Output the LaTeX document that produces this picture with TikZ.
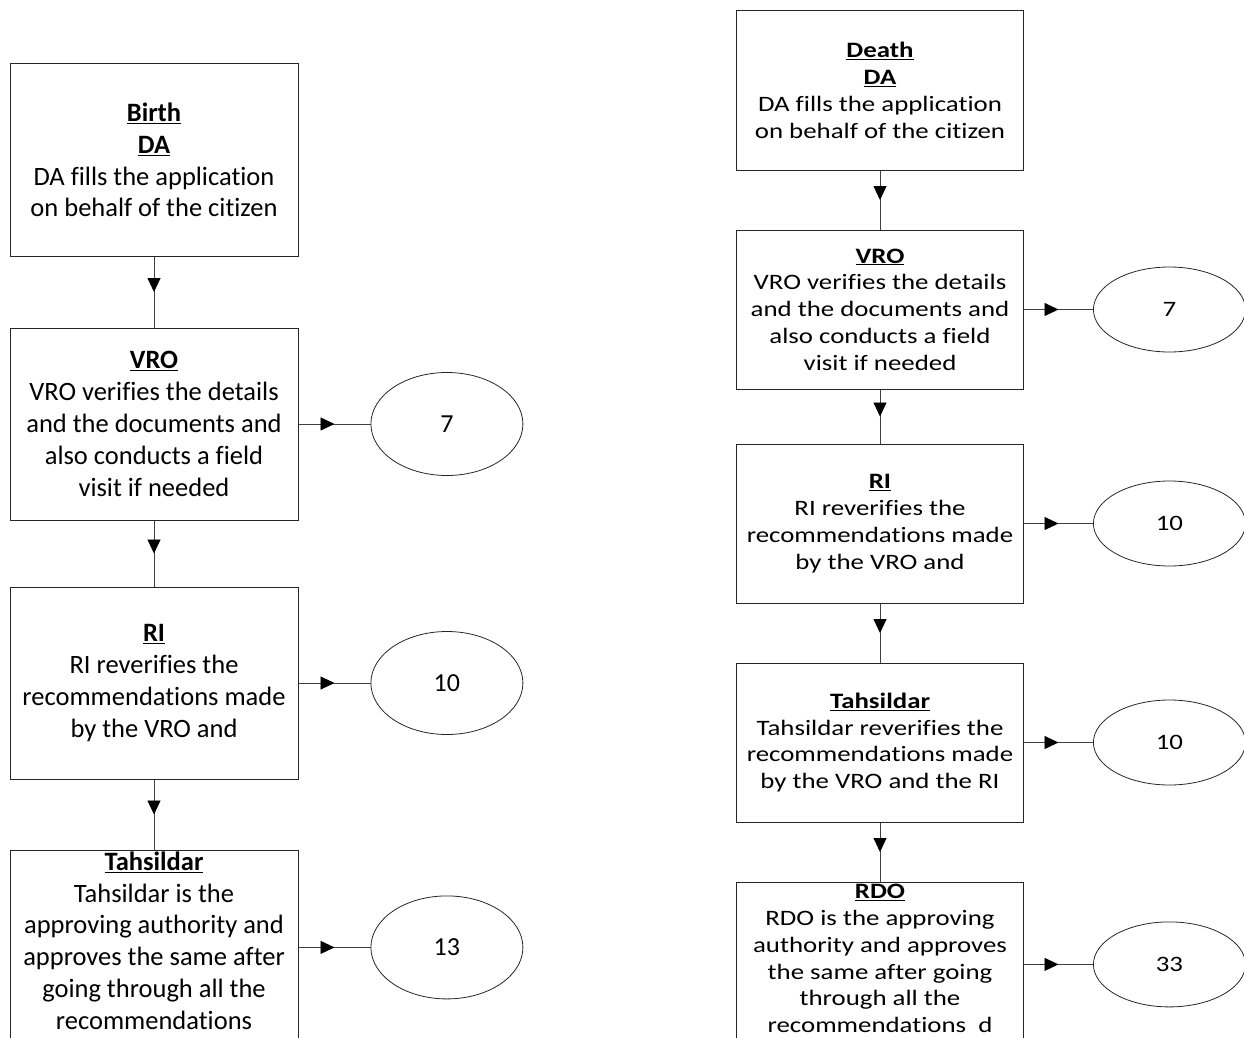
\documentclass[tikz,border=0pt]{standalone}
\usepackage{fontspec}
\setmainfont[Ligatures=NoCommon]{Carlito}
\newfontfamily\widefont[Ligatures=NoCommon, FakeStretch=1.22]{Carlito}
\usetikzlibrary{shapes.geometric,positioning,arrows.meta,decorations.markings}

\tikzset{
  stage/.style={draw=black!85, line width=1pt, rectangle, align=center,
    minimum width=288pt, minimum height=192pt, inner sep=2pt,
    font=\fontsize{26.5}{31.8}\selectfont},
  rstage/.style={stage, minimum width=287pt, minimum height=159pt,
    font=\widefont\fontsize{22}{26.8}\selectfont},
  days/.style={draw=black!85, line width=0.8pt, ellipse, inner sep=0pt,
    minimum width=152pt, minimum height=103pt,
    font=\fontsize{26}{31.7}\selectfont},
  rdays/.style={days, minimum height=85pt, font=\widefont\fontsize{22}{27}\selectfont},
  flow/.style={draw=black!75, line width=0.9pt,
    decoration={markings, mark=at position 0.5 with {\arrow[black]{Triangle[length=14pt,width=13pt]}}},
    postaction={decorate}},
}
\newcommand{\head}[1]{\underline{\textbf{#1}}}
% text lifted a little inside the last boxes
\newcommand{\lifted}[1]{\raisebox{4pt}[\height][\depth]{\begin{tabular}{@{}c@{}}#1\end{tabular}}}

\begin{document}
\begin{tikzpicture}[x=1pt, y=-1pt, node distance=70pt]
    \useasboundingbox (0,0) rectangle (1244,1038);

    % birth
    \node [stage] (bda) at (154,160) {\head{Birth}\\ \head{DA}\\ DA fills the application\\ on behalf of the citizen};
    \node [stage, below=71pt of bda] (bvro) {\head{VRO}\\ VRO verifies the details\\ and the documents and\\ also conducts a field\\ visit if needed};
    \node [stage, below=66pt of bvro] (bri) {\head{RI}\\ RI reverifies the\\ recommendations made\\ by the VRO and};
    \node [stage, below=70pt of bri] (btah) {\lifted{\head{Tahsildar}\\ Tahsildar is the\\ approving authority and\\ approves the same after\\ going through all the\\ recommendations}};

    \node [days, right=72pt of bvro] (bvro-d) {7};
    \node [days, right=72pt of bri] (bri-d) {10};
    \node [days, right=72pt of btah] (btah-d) {13};

    \draw [flow] (bda) -- (bvro);
    \draw [flow] (bvro) -- (bri);
    \draw [flow] (bri) -- (btah);
    \draw [flow] (bvro) -- (bvro-d);
    \draw [flow] (bri) -- (bri-d);
    \draw [flow] (btah) -- (btah-d);

    % death
    \node [rstage] (dda) at (880,90.5) {\head{Death}\\ \head{DA}\\ DA fills the application\\ on behalf of the citizen};
    \node [rstage, below=59pt of dda] (dvro) {\head{VRO}\\ VRO verifies the details\\ and the documents and\\ also conducts a field\\ visit if needed};
    \node [rstage, below=54pt of dvro] (dri) {\head{RI}\\ RI reverifies the\\ recommendations made\\ by the VRO and};
    \node [rstage, below=59pt of dri] (dtah) {\head{Tahsildar}\\ Tahsildar reverifies the\\ recommendations made\\ by the VRO and the RI};
    \node [rstage, below=59pt of dtah] (drdo) {\lifted{\head{RDO}\\ RDO is the approving\\ authority and approves\\ the same after going\\ through all the\\ recommendations~~d}};

    \node [rdays, right=69pt of dvro] (dvro-d) {7};
    \node [rdays, right=69pt of dri] (dri-d) {10};
    \node [rdays, right=69pt of dtah] (dtah-d) {10};
    \node [rdays, right=69pt of drdo] (drdo-d) {33};

    \draw [flow] (dda) -- (dvro);
    \draw [flow] (dvro) -- (dri);
    \draw [flow] (dri) -- (dtah);
    \draw [flow] (dtah) -- (drdo);
    \draw [flow] (dvro) -- (dvro-d);
    \draw [flow] (dri) -- (dri-d);
    \draw [flow] (dtah) -- (dtah-d);
    \draw [flow] (drdo) -- (drdo-d);
\end{tikzpicture}
\end{document}
